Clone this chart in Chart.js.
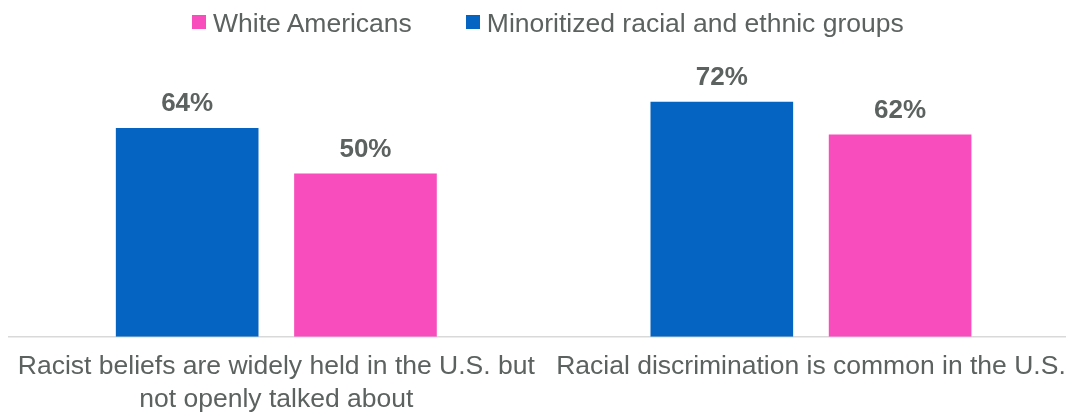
<!DOCTYPE html>
<html>
<head>
<meta charset="utf-8">
<script src="https://cdn.jsdelivr.net/npm/chart.js@4"></script>
<style>
  html, body { margin: 0; padding: 0; background: #fff; overflow: hidden; }
  .chart-wrap { position: relative; width: 1066px; height: 412px; overflow: hidden; }
  .chart-wrap canvas { position: absolute; left: 0; top: 0; }
  #legend {
    position: absolute; left: 192px; top: 8px; z-index: 1;
    display: flex; align-items: center;
    font: 26.5px "Liberation Sans", Arial, sans-serif; line-height: 30px; color: #5b625f;
  }
  .legend-item { display: flex; align-items: center; margin-right: 54px; }
  .legend-box { width: 14px; height: 14px; margin-right: 7px; position: relative; top: -1px; }
</style>
</head>
<body>
<div class="chart-wrap">
  <div id="legend"></div>
  <canvas id="bar-chart" width="1080" height="430"></canvas>
</div>
<script>
const categories = [
  ["Racist beliefs are widely held in the U.S. but", "not openly talked about"],
  "Racial discrimination is common in the U.S."
];
const minoritizedValues = [64, 72];
const whiteValues = [50, 62];

const FONT = "'Liberation Sans', Arial, sans-serif";
const TEXT = "#5b625f";

// percent labels above each bar
const valueLabels = {
  id: "valueLabels",
  afterDatasetsDraw(chart) {
    const ctx = chart.ctx;
    ctx.save();
    ctx.font = "bold 26px " + FONT;
    ctx.fillStyle = TEXT;
    ctx.textAlign = "center";
    ctx.textBaseline = "alphabetic";
    chart.data.datasets.forEach((ds, i) => {
      chart.getDatasetMeta(i).data.forEach((bar, j) => {
        ctx.fillText(ds.data[j] + "%", bar.x, bar.y - 16.5);
      });
    });
    ctx.restore();
  }
};

const chart = new Chart(document.getElementById("bar-chart"), {
  type: "bar",
  data: {
    labels: categories,
    datasets: [
      { label: "Minoritized racial and ethnic groups", data: minoritizedValues, backgroundColor: "#0563c1" },
      { label: "White Americans", data: whiteValues, backgroundColor: "#f84dbd" }
    ]
  },
  options: {
    responsive: false,
    animation: false,
    categoryPercentage: 0.667,
    barPercentage: 0.8,
    layout: { padding: { left: 9, right: 1, top: 43, bottom: 0 } },
    plugins: {
      legend: { display: false },
      tooltip: { enabled: false }
    },
    scales: {
      x: {
        grid: { display: false, drawTicks: false },
        border: { display: true, color: "#d9d9d9", width: 1.5 },
        ticks: { color: TEXT, padding: 14, maxRotation: 0, autoSkip: false, font: { family: FONT, size: 26.5, lineHeight: 1.23 } }
      },
      y: { display: false, min: 0, max: 90 }
    }
  },
  plugins: [valueLabels]
});

// legend lists White Americans first
const legend = document.getElementById("legend");
chart.data.datasets.slice().reverse().forEach(ds => {
  const item = document.createElement("div");
  item.className = "legend-item";
  const box = document.createElement("span");
  box.className = "legend-box";
  box.style.background = ds.backgroundColor;
  item.appendChild(box);
  item.appendChild(document.createTextNode(ds.label));
  legend.appendChild(item);
});
</script>
</body>
</html>
